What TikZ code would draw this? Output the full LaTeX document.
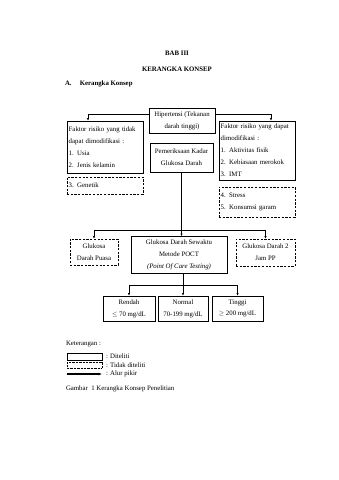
\documentclass[tikz,border=0pt]{standalone}
\usepackage{fontspec}
\setmainfont{Liberation Serif}
\usetikzlibrary{arrows.meta}
\newcommand\pxu{0.6195mm}
\tikzset{
  diteliti/.style={draw, line width=1.2pt, inner xsep=3pt, inner ysep=1pt, font=\fontsize{12}{21}\selectfont},
  tidakditeliti/.style={diteliti, line width=1pt, dash pattern=on 4pt off 2.5pt},
  alur/.style={-{Latex[length=4.5pt,width=4pt]}, line width=0.9pt}
}
\begin{document}
\begin{tikzpicture}[x=0.6195mm, y=-0.6195mm, font=\fontsize{12}{14}\selectfont]
\useasboundingbox (0,0) rectangle (339,480);
\node[font=\fontsize{12}{14}\selectfont\bfseries] (bab) at (177,53) {BAB III};
\node[font=\fontsize{12}{14}\selectfont\bfseries] (judul) at (177,69) {KERANGKA KONSEP};
\node[anchor=west, font=\fontsize{12}{14}\selectfont\bfseries] (subjudul) at (63,84) {A.\hspace{1.2em}Kerangka Konsep};

\node[diteliti, align=center, minimum width=66*\pxu, minimum height=25*\pxu] (hipertensi) at (182,121) {Hipertensi (Tekanan\\darah tinggi)};
\node[diteliti, align=left, text width=76*\pxu-6pt, minimum height=52*\pxu] (kiri) at (105,147) {Faktor risiko yang tidak\\dapat dimodifikasi :\\1.\enspace Usia\\2.\enspace Jenis kelamin};
\node[tidakditeliti, align=left, text width=76*\pxu-6pt, minimum height=17*\pxu] (genetik) at (105,185.5) {3. Genetik};
\node[diteliti, align=left, text width=76*\pxu-6pt, minimum height=59*\pxu] (kanan) at (257,150.5) {Faktor risiko yang dapat\\dimodifikasi :\\1.\enspace Aktivitas fisik\\2.\enspace Kebiasaan merokok\\3.\enspace IMT};
\node[tidakditeliti, align=left, text width=76*\pxu-6pt, minimum height=30*\pxu] (stress) at (257,202) {4. Stress\\5. Konsumsi garam};
\node[diteliti, align=center, minimum width=63*\pxu, minimum height=29*\pxu] (pemeriksaan) at (181.5,157.5) {Pemeriksaan Kadar\\Glukosa Darah};

\node[tidakditeliti, align=center, minimum width=48*\pxu, minimum height=26*\pxu] (puasa) at (94,252) {Glukosa\\Darah Puasa};
\node[diteliti, align=center, minimum width=96*\pxu, minimum height=37*\pxu] (sewaktu) at (179,255) {Glukosa Darah Sewaktu\\Metode POCT\\\textit{(Point Of Care Testing)}};
\node[tidakditeliti, align=center, minimum width=59*\pxu, minimum height=27*\pxu] (pp) at (265.5,252.5) {Glukosa Darah 2\\Jam PP};

\node[diteliti, align=center, minimum width=52*\pxu, minimum height=25*\pxu] (rendah) at (129,308.5) {Rendah\\$\leq$ 70 mg/dL};
\node[diteliti, align=center, minimum width=50*\pxu, minimum height=25*\pxu] (normal) at (183,308.5) {Normal\\70-199 mg/dL};
\node[diteliti, align=center, minimum width=51*\pxu, minimum height=25*\pxu] (tinggi) at (237.5,308.5) {Tinggi\\$\geq$ 200 mg/dL};

\coordinate (cabang) at (181.5,230);
\coordinate (cabang2) at (183,285);
\draw[alur] ([yshift=7*\pxu]hipertensi.west) -| ([xshift=-17*\pxu]kiri.north);
\draw[alur] ([yshift=7*\pxu]hipertensi.east) -| ([xshift=14*\pxu]kanan.north);
\draw[line width=0.9pt] (pemeriksaan.south) -- (cabang);
\draw[alur] (cabang) -| (puasa);
\draw[alur] (cabang) -| (pp);
\draw[alur] (cabang) -- (cabang |- sewaktu.north);
\draw[line width=0.9pt] (sewaktu.south -| cabang2) -- (cabang2);
\draw[alur] (cabang2) -| (rendah);
\draw[alur] (cabang2) -- (normal);
\draw[alur] (cabang2) -| (tinggi);

\node[anchor=west] (keterangan) at (64,344) {Keterangan :};
\draw[line width=1pt] (67,353) rectangle (102,360);
\draw[line width=1pt, dash pattern=on 1.5pt off 1pt] (67,362) rectangle (102,368);
\draw[-{Latex[length=6pt,width=5pt]}, line width=2.2pt] (67,374) -- (102,374);
\node[anchor=west] (ket1) at (104,356) {: Diteliti};
\node[anchor=west] (ket2) at (104,365) {: Tidak diteliti};
\node[anchor=west] (ket3) at (104,374) {: Alur pikir};
\node[anchor=west] (gambar) at (64,389) {Gambar\enspace1 Kerangka Konsep Penelitian};
\end{tikzpicture}
\end{document}
